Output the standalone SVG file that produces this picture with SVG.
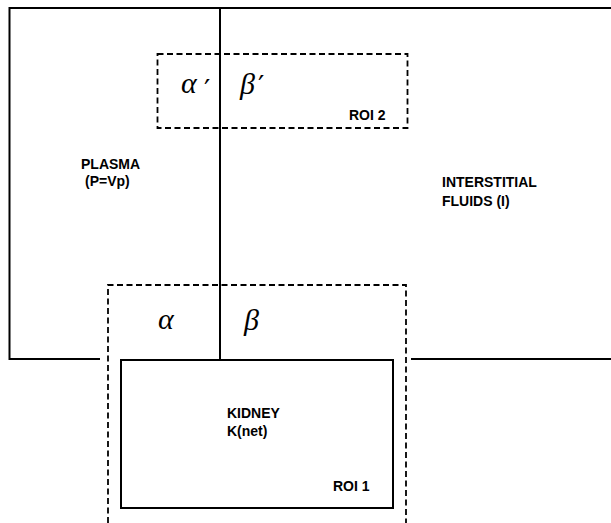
<svg xmlns="http://www.w3.org/2000/svg" width="611" height="523" viewBox="0 0 611 523">
<style>
.solid{fill:none;stroke:#000;stroke-width:2}
.dash{fill:none;stroke:#000;stroke-width:1.8;stroke-dasharray:6 3.5}
.lbl{font-family:"Liberation Sans",Arial,sans-serif;font-weight:bold;font-size:14px;fill:#000}
.greek{font-family:"Liberation Serif","Times New Roman",serif;font-style:italic;font-size:30px;fill:#000}
.prime{font-family:"DejaVu Sans",sans-serif;font-size:28px;fill:#000}
</style>
<rect width="611" height="523" fill="#fff"/>
<g id="compartments">
<path class="solid" d="M611,8 H9.5 V359 H100"/>
<path class="solid" d="M411,359 H611"/>
</g>
<g id="connectors">
<path class="solid" d="M220,8 V360"/>
</g>
<g id="plasma">
<text class="lbl" x="81" y="169">PLASMA</text>
<text class="lbl" x="85" y="186">(P=Vp)</text>
</g>
<g id="interstitial">
<text class="lbl" x="442" y="187">INTERSTITIAL</text>
<text class="lbl" x="442" y="206">FLUIDS (I)</text>
</g>
<g id="roi2">
<rect class="dash" x="157.5" y="54" width="250" height="74"/>
<text class="greek" x="181" y="93">α</text>
<text class="prime" x="204" y="100">′</text>
<text class="greek" x="240" y="94">β</text>
<text class="prime" x="258" y="96">′</text>
<text class="lbl" x="349" y="120">ROI 2</text>
</g>
<g id="roi1">
<path class="dash" d="M108,523 V285 H406 V523"/>
<text class="greek" x="158" y="329">α</text>
<text class="greek" x="244" y="330">β</text>
</g>
<g id="kidney">
<rect class="solid" x="121" y="360" width="272" height="148"/>
<text class="lbl" x="227" y="418">KIDNEY</text>
<text class="lbl" x="227" y="436">K(net)</text>
<text class="lbl" x="333" y="491">ROI 1</text>
</g>
</svg>
